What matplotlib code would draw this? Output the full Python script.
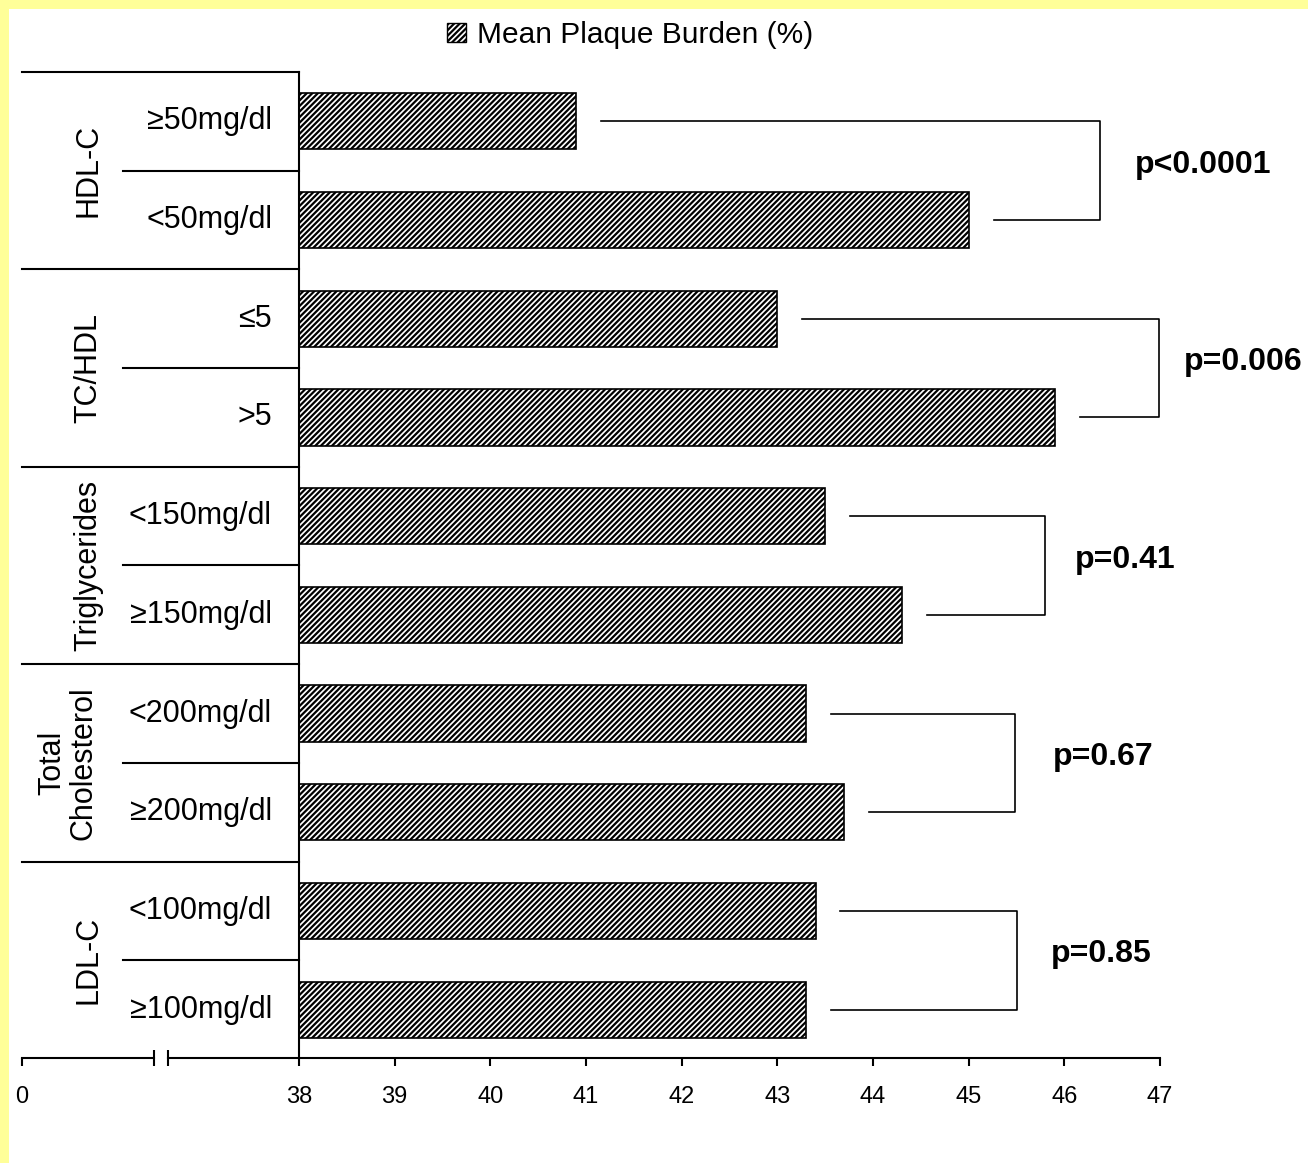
import matplotlib
matplotlib.use("Agg")
import matplotlib.pyplot as plt
from matplotlib.patches import Patch

plt.rcParams["font.family"] = ["Liberation Sans", "DejaVu Sans"]
plt.rcParams["hatch.linewidth"] = 1.6

# ---- data ----
groups = ["HDL-C", "TC/HDL", "Triglycerides", "Total\nCholesterol", "LDL-C"]
subgroups = ["≥50mg/dl", "<50mg/dl",
             "≤5", ">5",
             "<150mg/dl", "≥150mg/dl",
             "<200mg/dl", "≥200mg/dl",
             "<100mg/dl", "≥100mg/dl"]
plaque_burden = [40.9, 45.0, 43.0, 45.9, 43.5, 44.3, 43.3, 43.7, 43.4, 43.3]
p_values = ["p<0.0001", "p=0.006", "p=0.41", "p=0.67", "p=0.85"]
tick_values = [38, 39, 40, 41, 42, 43, 44, 45, 46, 47]
legend_label = "Mean Plaque Burden (%)"

# ---- layout ----
axis_start = 38.0
axis_end = 47.0
unit_px = (1160 - 299) / 9.0
x_zero = axis_start - (299 - 22) / unit_px      # where the "0" of the broken axis sits
bracket_x = [46.37, 46.99, 45.8, 45.48, 45.5]
p_text_offset = [0.37, 0.26, 0.31, 0.40, 0.36]
bracket_gap = 0.26
bar_hatch = "//////"

fig = plt.figure(figsize=(13.08, 11.63), dpi=100, facecolor="#FFFF99")
# white panel inside the yellow border
fig.patches.append(plt.Rectangle((9 / 1308, 0), 1, 1 - 9 / 1163,
                                 transform=fig.transFigure, facecolor="white",
                                 edgecolor="none", zorder=-10))

ax = fig.add_axes([22 / 1308, 1 - 1058 / 1163, (1160 - 22) / 1308, (1058 - 72) / 1163])
ax.set_facecolor("none")
ax.set_xlim(x_zero, axis_end)
ax.set_ylim(9.49, -0.5)
for s in ax.spines.values():
    s.set_visible(False)

ypos = list(range(len(plaque_burden)))
widths = [v - axis_start for v in plaque_burden]
ax.barh(ypos, widths, left=axis_start, height=0.57, color="white",
        edgecolor="black", hatch=bar_hatch, linewidth=1.2, zorder=3)

# x axis with break
lw_axis = 1.5
xt = ax.get_xaxis_transform()
ax.plot([x_zero, 36.484], [0, 0], color="black", lw=lw_axis, transform=xt, clip_on=False)
ax.plot([36.63, axis_end], [0, 0], color="black", lw=lw_axis, transform=xt, clip_on=False)
ax.plot([36.484, 36.63], [0, 0], ls="none", marker="|", markersize=12,
        markeredgewidth=lw_axis, color="black", transform=xt, clip_on=False)
ax.set_xticks([x_zero] + tick_values)
ax.set_xticklabels(["0"] + [str(t) for t in tick_values], fontsize=17)
ax.tick_params(axis="x", direction="out", length=6, width=lw_axis, pad=14)
ax.set_yticks([])

# vertical axis line at the start of the bars
ax.plot([axis_start, axis_start], [-0.5, 9.49], color="black", lw=lw_axis,
        clip_on=False, zorder=4)

# table lines on the left
minor_left = axis_start - (299 - 123) / unit_px
for i in range(5):
    ax.plot([x_zero, axis_start], [2 * i - 0.5] * 2, color="black", lw=lw_axis, clip_on=False)
    ax.plot([minor_left, axis_start], [2 * i + 0.5] * 2, color="black", lw=lw_axis, clip_on=False)

# category labels
label_x = axis_start - (299 - 272) / unit_px
for y, lab in zip(ypos, subgroups):
    ax.text(label_x, y, lab, ha="right", va="center", fontsize=22)

group_x = axis_start - (299 - 88) / unit_px
for i, g in enumerate(groups):
    gx = group_x if "\n" not in g else axis_start - (299 - 68) / unit_px
    ax.text(gx, 2 * i + 0.5, g, rotation=90, ha="center", va="center",
            fontsize=22, linespacing=1.05, multialignment="center")

# significance brackets
for i, (bx, p, off) in enumerate(zip(bracket_x, p_values, p_text_offset)):
    y1, y2 = 2 * i, 2 * i + 1
    v1, v2 = plaque_burden[y1], plaque_burden[y2]
    ax.plot([v1 + bracket_gap, bx, bx, v2 + bracket_gap], [y1, y1, y2, y2],
            color="black", lw=1.2, clip_on=False)
    ax.text(bx + off, (y1 + y2) / 2 - 0.06, p, ha="left", va="center",
            fontsize=23, fontweight="bold", clip_on=False)

# legend
handle = Patch(facecolor="white", edgecolor="black", hatch=bar_hatch, linewidth=1.0)
fig.legend([handle], [legend_label], loc="center", bbox_to_anchor=(630 / 1308, 1 - 35 / 1163),
           frameon=False, fontsize=21.5, handlelength=0.65, handleheight=0.65,
           handletextpad=0.35, borderpad=0, borderaxespad=0)

fig.savefig("out.png", dpi=100, facecolor=fig.get_facecolor())
